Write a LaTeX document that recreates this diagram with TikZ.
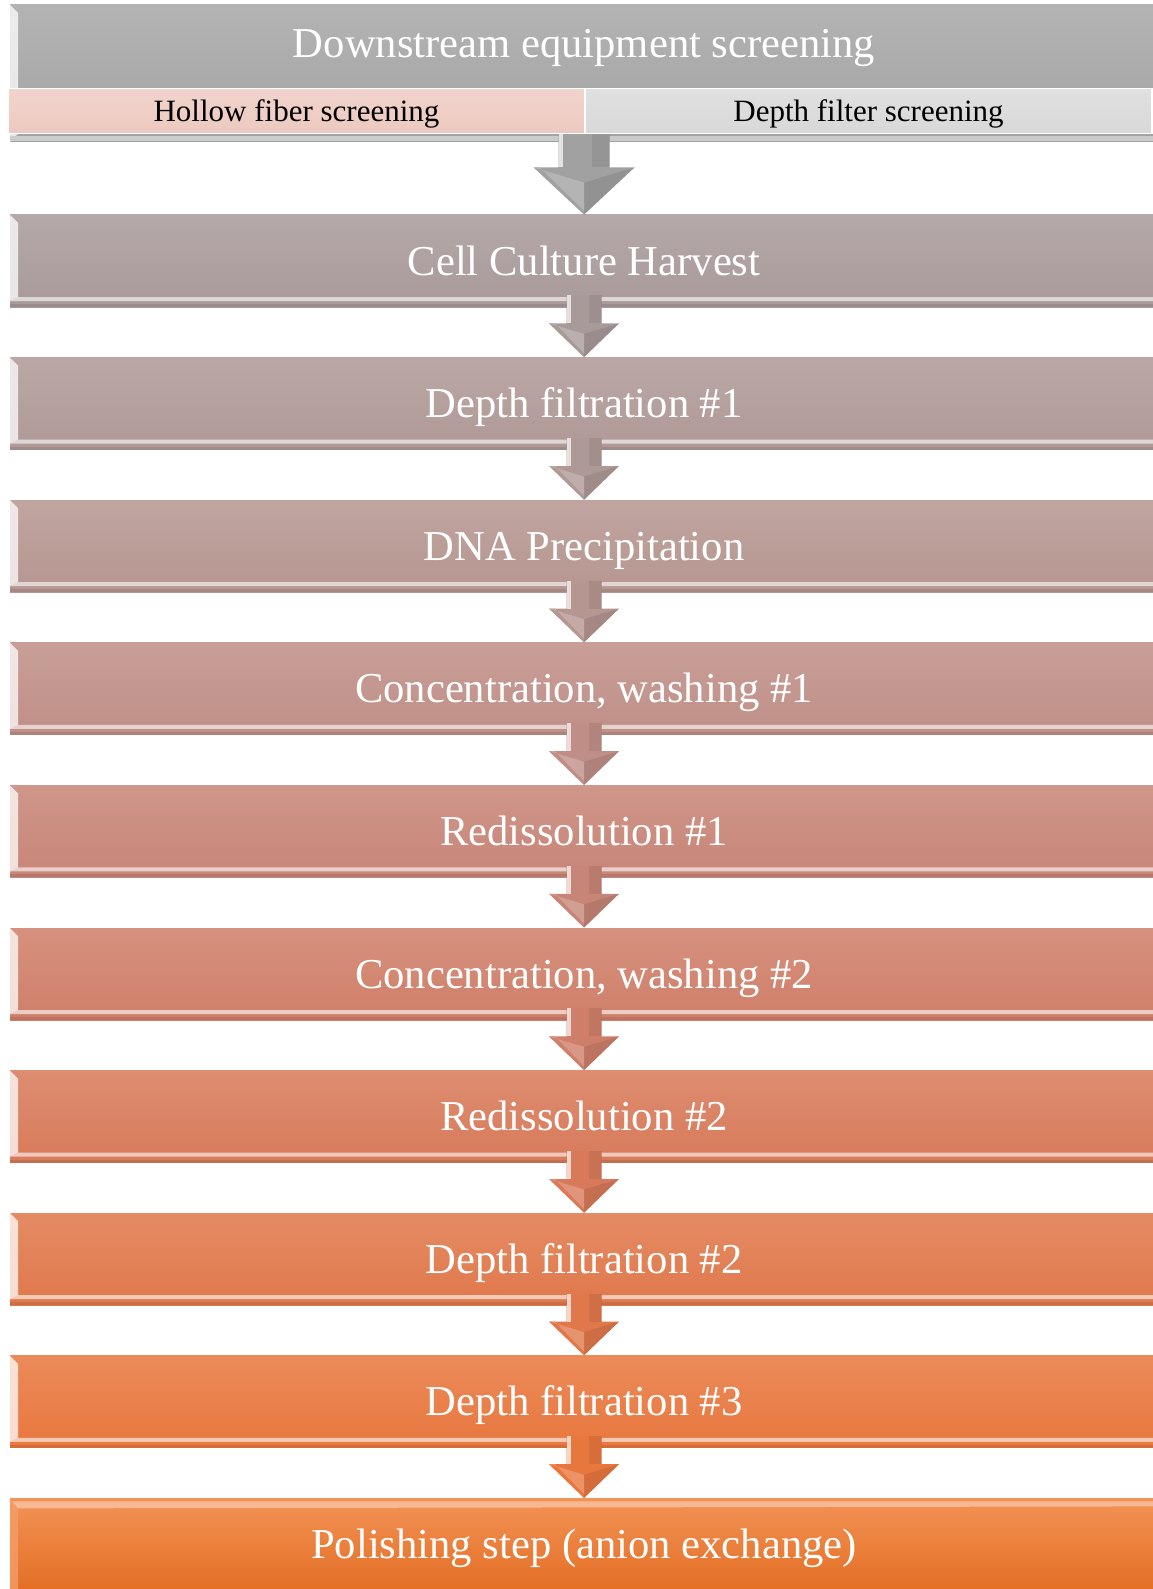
\documentclass[tikz,border=0pt]{standalone}
\usepackage{fontspec}
\setmainfont{Liberation Serif}
\usetikzlibrary{calc}
\newcommand\mainsz{\fontsize{21.3pt}{25pt}\selectfont}
\newcommand\subsz{\fontsize{15.5pt}{18pt}\selectfont}
\definecolor{cH}{HTML}{A9A9A9}
\definecolor{c0}{HTML}{A99A9A}
\definecolor{c1}{HTML}{AF9996}
\definecolor{c2}{HTML}{B69690}
\definecolor{c3}{HTML}{BF8F87}
\definecolor{c4}{HTML}{C78577}
\definecolor{c5}{HTML}{CF7F69}
\definecolor{c6}{HTML}{D87A5A}
\definecolor{c7}{HTML}{E0784B}
\definecolor{c8}{HTML}{E8773E}
\definecolor{c9}{HTML}{EF7426}
\definecolor{pinkA}{HTML}{F1D4CC}
\definecolor{pinkB}{HTML}{ECC9BF}
\definecolor{greyA}{HTML}{E0E0E0}
\definecolor{greyB}{HTML}{D8D8D8}
\tikzset{
  stepbox/.style={rectangle, minimum width=574pt, minimum height=46pt, inner sep=0pt,
    text height=14pt, text depth=0pt,
    top color=#1!86!white, bottom color=#1, text=white, font=\mainsz,
    path picture={
      \fill[#1!40!white] ([yshift=3pt]path picture bounding box.south west) --
        ([yshift=3pt]path picture bounding box.south east) --
        ([yshift=5pt]path picture bounding box.south east) --
        ([xshift=4pt,yshift=5pt]path picture bounding box.south west) -- cycle;
      \fill[#1!70!black,opacity=0.3] (path picture bounding box.south west) --
        (path picture bounding box.south east) --
        ([yshift=1.5pt]path picture bounding box.south east) --
        ([yshift=1.5pt]path picture bounding box.south west) -- cycle;
      \fill[white,opacity=0.75] (path picture bounding box.north west) --
        ([xshift=4pt,yshift=-4pt]path picture bounding box.north west) --
        ([xshift=4pt,yshift=5pt]path picture bounding box.south west) --
        ([yshift=3pt]path picture bounding box.south west) -- cycle;
    }},
  lastbox/.style={rectangle, minimum width=574pt, minimum height=46pt, inner sep=0pt,
    text height=14pt, text depth=0pt,
    top color=#1!78!white, bottom color=#1!95!black, text=white, font=\mainsz,
    path picture={
      \fill[#1!50!white] ([yshift=-1.5pt]path picture bounding box.north west) --
        ([yshift=-1.5pt]path picture bounding box.north east) --
        ([yshift=-4pt]path picture bounding box.north east) --
        ([xshift=4pt,yshift=-5pt]path picture bounding box.north west) -- cycle;
      \fill[#1!70!white,opacity=0.8] (path picture bounding box.north west) --
        ([xshift=4pt,yshift=-5pt]path picture bounding box.north west) --
        ([xshift=4pt]path picture bounding box.south west) --
        (path picture bounding box.south west) -- cycle;
    }},
  subbox/.style={rectangle, minimum height=22.5pt, inner sep=0pt, text=black, font=\subsz,
    text height=10.3pt, text depth=0pt, draw=white, line width=0.6pt}
}
% #1 from, #2 to, #3 colour, #4 shaft half width, #5 head half width,
% #6 shaft top offset (up), #7 head start offset (down)
\newcommand\blockarrow[7]{%
  \fill[#3] ($(#1.south)+(-#4,-#6)$) -- ($(#1.south)+(#4,-#6)$) --
    ($(#1.south)+(#4,#7)$) -- ($(#1.south)+(#5,#7)$) -- (#2.north) --
    ($(#1.south)+(-#5,#7)$) -- ($(#1.south)+(-#4,#7)$) -- cycle;
  \fill[#3!75!black,opacity=0.35] ($(#1.south)+(0,#7+0.3*#5)$) -- ($(#1.south)+(#5,#7)$) --
    (#2.north) -- cycle;
  \fill[#3!80!white] ($(#1.south)+(0,#7+0.3*#5)$) -- ($(#1.south)+(-#5,#7)$) --
    ($(#1.south)+(-#5+6,#7)$) -- ($(#2.north)+(0,-4)$) -- cycle;
  \fill[black,opacity=0.07] ($(#1.south)+(0.3*#4,-#6)$) rectangle ($(#1.south)+(#4,#7)$);
  \fill[white,opacity=0.7] ($(#1.south)+(-#4,-#6)$) rectangle ($(#1.south)+(-#4+4,#7)$);
}
\begin{document}
\begin{tikzpicture}[x=0.5pt,y=-0.5pt]
\useasboundingbox (0,0) rectangle (1152,1589);
\fill[white] (0,0) rectangle (1152,1589);

% header
\node[rectangle, minimum width=574pt, minimum height=68.5pt, inner sep=0pt,
  top color=cH!88!white, bottom color=cH!96!black,
  path picture={
    \fill[white,opacity=0.75] (path picture bounding box.north west) --
      ([xshift=4pt,yshift=-4pt]path picture bounding box.north west) --
      ([xshift=4pt,yshift=4pt]path picture bounding box.south west) --
      (path picture bounding box.south west) -- cycle;
    \fill[cH!60!white] ([yshift=0.5pt]path picture bounding box.south west) rectangle
      ([yshift=3pt]path picture bounding box.south east);
  }] (hdr) at (584,73.5) {};
\node[font=\mainsz, text=white, text height=14pt, text depth=0pt, inner sep=0pt] (hdrtxt) at (584,44) {Downstream equipment screening};
\node[subbox, minimum width=288.5pt, top color=pinkA, bottom color=pinkB] (hf) at (296.5,111) {Hollow fiber screening};
\node[subbox, minimum width=283.5pt, top color=greyA, bottom color=greyB] (df) at (868.5,111) {Depth filter screening};

% steps
\node[stepbox=c0] (b0) at (584,261)    {Cell Culture Harvest};
\node[stepbox=c1] (b1) at (584,403.6)  {Depth filtration \#1};
\node[stepbox=c2] (b2) at (584,546.2)  {DNA Precipitation};
\node[stepbox=c3] (b3) at (584,688.8)  {Concentration, washing \#1};
\node[stepbox=c4] (b4) at (584,831.4)  {Redissolution \#1};
\node[stepbox=c5] (b5) at (584,974)    {Concentration, washing \#2};
\node[stepbox=c6] (b6) at (584,1116.6) {Redissolution \#2};
\node[stepbox=c7] (b7) at (584,1259.2) {Depth filtration \#2};
\node[stepbox=c8] (b8) at (584,1401.8) {Depth filtration \#3};
\node[lastbox=c9] (b9) at (584,1544.4) {Polishing step (anion exchange)};

% arrows
\blockarrow{hdr}{b0}{cH!95!black}{25.5}{50.5}{8}{25}
\blockarrow{b0}{b1}{c0}{17.5}{35}{12}{16}
\blockarrow{b1}{b2}{c1}{17.5}{35}{12}{16}
\blockarrow{b2}{b3}{c2}{17.5}{35}{12}{16}
\blockarrow{b3}{b4}{c3}{17.5}{35}{12}{16}
\blockarrow{b4}{b5}{c4}{17.5}{35}{12}{16}
\blockarrow{b5}{b6}{c5}{17.5}{35}{12}{16}
\blockarrow{b6}{b7}{c6}{17.5}{35}{12}{16}
\blockarrow{b7}{b8}{c7}{17.5}{35}{12}{16}
\blockarrow{b8}{b9}{c8}{17.5}{35}{12}{16}
\end{tikzpicture}
\end{document}
